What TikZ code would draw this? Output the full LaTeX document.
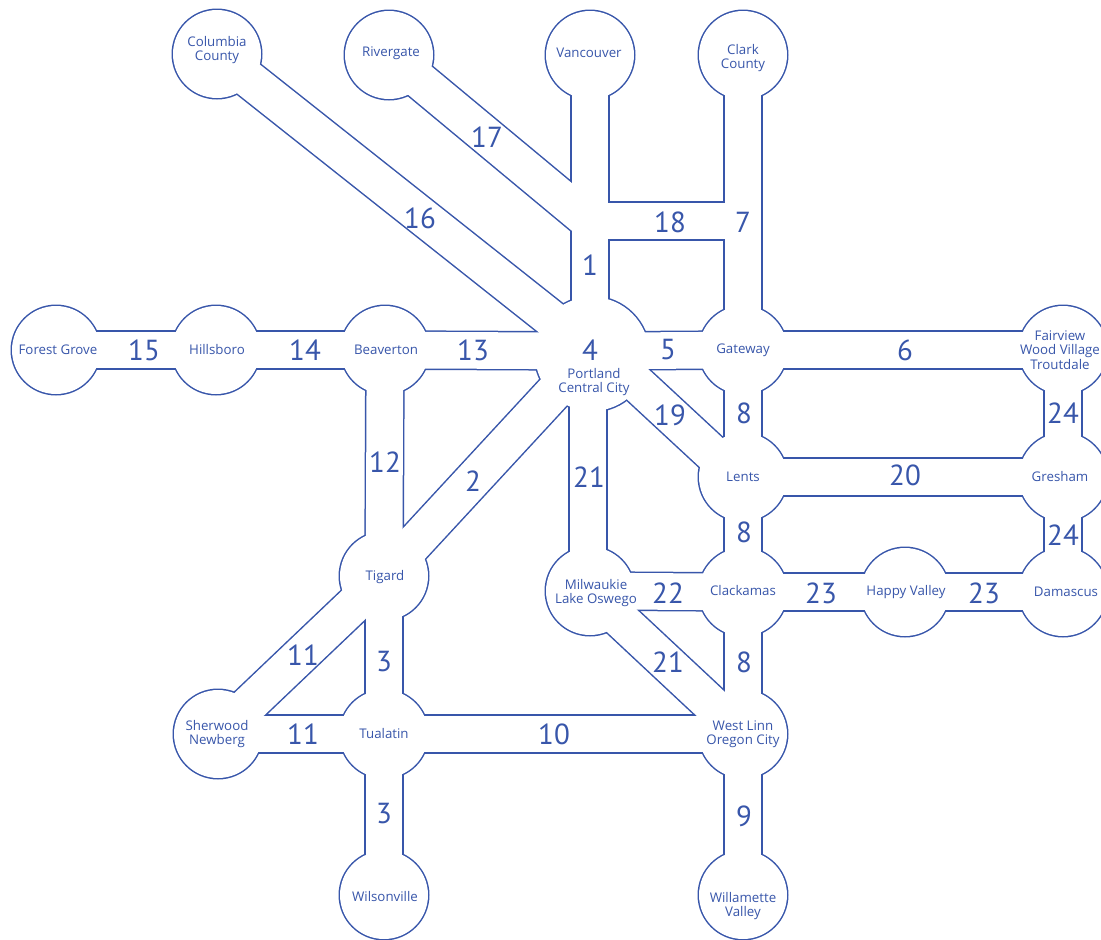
\documentclass[tikz,border=0pt]{standalone}
\usepackage{fontspec}
\setmainfont{PT Sans}
\newfontfamily\namefont{Open Sans}
\definecolor{ln}{RGB}{56,86,170}
\begin{document}
\begin{tikzpicture}[x=1pt,y=-1pt,
  bandout/.style={draw=ln,line width=39.6pt,line cap=butt},
  bandin/.style={draw=white,line width=36.6pt,line cap=butt},
  lbl/.style={text=ln,font=\namefont\fontsize{13.3}{14.5}\selectfont,align=center,inner sep=0pt},
  num/.style={text=ln,font=\fontsize{29}{29}\selectfont,inner sep=0pt}]
\useasboundingbox (0,0) rectangle (1101,940);
\clip (0,0) rectangle (1101,940);
\fill[white] (0,0) rectangle (1101,940);
% centres
\coordinate (CC) at (217,54);
\coordinate (RG) at (389,55);
\coordinate (VC) at (590,55);
\coordinate (CK) at (743,55);
\coordinate (FG) at (56,350);
\coordinate (HB) at (216,350);
\coordinate (BV) at (385,350);
\coordinate (PDX) at (592,351);
\coordinate (HUB) at (592,354);
\coordinate (GW) at (743,350);
\coordinate (FV) at (1063,350);
\coordinate (LN) at (743,477);
\coordinate (GR) at (1063,477);
\coordinate (TG) at (384,576);
\coordinate (MW) at (590,591);
\coordinate (CKM) at (743,592);
\coordinate (HV) at (905,592);
\coordinate (DM) at (1063,592);
\coordinate (SH) at (218,734);
\coordinate (TU) at (384,734);
\coordinate (WL) at (743,734);
\coordinate (WS) at (384,895);
\coordinate (WV) at (743,895);
% corridor end points
\coordinate (P1) at (590,355);
\coordinate (J17) at (590,222);
\coordinate (J18a) at (590,221);
\coordinate (J18b) at (743,221);
\coordinate (P19) at (592,342);
\coordinate (L19) at (743,482);
\coordinate (P21) at (588,355);
\coordinate (M21) at (588,591);
% outer (blue) layer
\foreach \a/\b in {FG/HB,HB/BV,BV/PDX,PDX/GW,GW/FV,CC/PDX,RG/J17,VC/P1,J18a/J18b,
  CK/GW,GW/LN,LN/CKM,CKM/WL,WL/WV,P19/L19,LN/GR,FV/GR,GR/DM,P21/M21,MW/CKM,
  CKM/HV,HV/DM,MW/WL,PDX/TG,BV/TG,TG/TU,TU/WS,TG/SH,SH/TU,TU/WL}
  \draw[bandout] (\a) -- (\b);
\foreach \c in {CC,RG,VC,CK,FG,HB,BV,GW,FV,LN,GR,TG,MW,CKM,HV,DM,SH,TU,WL,WS,WV}
  \fill[ln] (\c) circle (45.5);
\fill[ln] (HUB) circle (58.5);
% inner (white) layer
\foreach \a/\b in {FG/HB,HB/BV,BV/PDX,PDX/GW,GW/FV,CC/PDX,RG/J17,VC/P1,J18a/J18b,
  CK/GW,GW/LN,LN/CKM,CKM/WL,WL/WV,P19/L19,LN/GR,FV/GR,GR/DM,P21/M21,MW/CKM,
  CKM/HV,HV/DM,MW/WL,PDX/TG,BV/TG,TG/TU,TU/WS,TG/SH,SH/TU,TU/WL}
  \draw[bandin] (\a) -- (\b);
\foreach \c in {CC,RG,VC,CK,FG,HB,BV,GW,FV,LN,GR,TG,MW,CKM,HV,DM,SH,TU,WL,WS,WV}
  \fill[white] (\c) circle (44);
\fill[white] (HUB) circle (57);
% place names
\node[lbl] (tCC) at (217,50) {Columbia\\County};
\node[lbl] (tRG) at (391,53) {Rivergate};
\node[lbl] (tVC) at (589,53) {Vancouver};
\node[lbl] (tCK) at (743,58) {Clark\\County};
\node[lbl] (tFG) at (58,350) {Forest Grove};
\node[lbl] (tHB) at (217,350) {Hillsboro};
\node[lbl] (tBV) at (386,350) {Beaverton};
\node[lbl] (tPDX) at (594,382) {Portland\\Central City};
\node[lbl] (tGW) at (743,350) {Gateway};
\node[lbl] (tFV) at (1060,350) {Fairview\\Wood Village\\Troutdale};
\node[lbl] (tLN) at (743,477) {Lents};
\node[lbl] (tGR) at (1060,477) {Gresham};
\node[lbl] (tTG) at (385,577) {Tigard};
\node[lbl] (tMW) at (596,593) {Milwaukie\\Lake Oswego};
\node[lbl] (tCKM) at (743,591) {Clackamas};
\node[lbl] (tHV) at (906,592) {Happy Valley};
\node[lbl] (tDM) at (1066,592) {Damascus};
\node[lbl] (tSH) at (217,734) {Sherwood\\Newberg};
\node[lbl] (tTU) at (384,734) {Tualatin};
\node[lbl] (tWL) at (743,734) {West Linn\\Oregon City};
\node[lbl] (tWS) at (385,897) {Wilsonville};
\node[lbl] (tWV) at (743,906) {Willamette\\Valley};
% corridor numbers
\node[num] (n15) at (144,350) {15};
\node[num] (n14) at (305,350) {14};
\node[num] (n13) at (473,350) {13};
\node[num] (n4) at (590,350) {4};
\node[num] (n5) at (668,350) {5};
\node[num] (n6) at (905,350) {6};
\node[num] (n16) at (420,218) {16};
\node[num] (n17) at (487,137) {17};
\node[num] (n18) at (670,222) {18};
\node[num] (n7) at (743,222) {7};
\node[num] (n1) at (590,265) {1};
\node[num] (n19) at (670,415) {19};
\node[num] (n8a) at (744,413) {8};
\node[num] (n24a) at (1063,413) {24};
\node[num] (n20) at (905,475) {20};
\node[num] (n8b) at (744,532) {8};
\node[num] (n24b) at (1063,535) {24};
\node[num] (n12) at (385,462) {12};
\node[num] (n2) at (473,481) {2};
\node[num] (n21a) at (589,477) {21};
\node[num] (n22) at (668,593) {22};
\node[num] (n23a) at (821,593) {23};
\node[num] (n23b) at (984,593) {23};
\node[num] (n11a) at (303,655) {11};
\node[num] (n3a) at (384,662) {3};
\node[num] (n11b) at (303,734) {11};
\node[num] (n10) at (554,734) {10};
\node[num] (n21b) at (668,662) {21};
\node[num] (n8c) at (744,662) {8};
\node[num] (n3b) at (384,814) {3};
\node[num] (n9) at (744,816) {9};
\end{tikzpicture}
\end{document}
